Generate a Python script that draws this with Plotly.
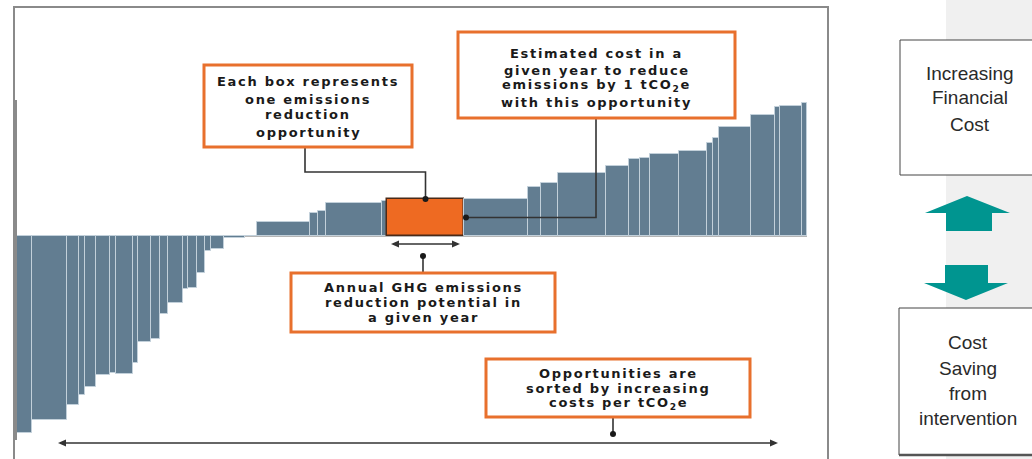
import plotly.graph_objects as go

W, H = 1032, 459

# Abatement opportunities, sorted by cost (schematic units)
potential = [15, 35, 12, 6, 11, 14, 6, 17, 5, 13, 9, 8, 15, 5, 9, 8, 6, 13, 21, 12,
             53, 8, 8, 56, 5, 77, 64, 13, 17, 48, 23, 11, 10, 29, 28, 6, 6, 32, 24, 5, 22, 5]
cost = [-197, -184, -169, -159, -151, -139, -137, -138, -127, -106, -103, -78, -67, -53,
        -52, -37, -15, -13, -1.5, 0,
        14, 23, 25, 33, 35, 37, 37, 49, 53, 63, 70, 77, 78, 82, 85, 93, 98, 109, 121, 129, 130, 133]
highlight = 25  # the example opportunity

box_notes = {
    "each": ["Each box represents", "one emissions", "reduction", "opportunity"],
    "cost": ["Estimated cost in a", "given year to reduce", "emissions by 1 tCO<sub>2</sub>e",
             "with this opportunity"],
    "annual": ["Annual GHG emissions", "reduction potential in", "a given year"],
    "sorted": ["Opportunities are", "sorted by increasing", "costs per tCO<sub>2</sub>e"],
}
side_up = ["Increasing", "Financial", "Cost"]
side_down = ["Cost", "Saving", "from", "intervention"]

# Axis placement (pixels)
X_L, X_R = 17, 807
Y_T, Y_B = 100, 440
Y_MAX, Y_MIN = 136, -204

left_edges = []
acc = 0
for w in potential:
    left_edges.append(acc)
    acc += w
total = acc
centers = [l + w / 2 for l, w in zip(left_edges, potential)]


def px(x):
    return x / W


def py(y):
    return 1 - y / H


def dx(v):
    return X_L + v * (X_R - X_L) / total


def dy(v):
    return Y_T + (Y_MAX - v) * (Y_B - Y_T) / (Y_MAX - Y_MIN)


BAR = "#627d91"
ORANGE = "#ee6a22"
colors = [ORANGE if i == highlight else BAR for i in range(len(cost))]
line_colors = ["#4a2a18" if i == highlight else "#c2d0da" for i in range(len(cost))]
line_widths = [1.5 if i == highlight else 1 for i in range(len(cost))]

fig = go.Figure(go.Bar(
    x=centers, y=cost, width=potential,
    marker=dict(color=colors, line=dict(color=line_colors, width=line_widths)),
    hoverinfo="skip",
))

shapes = []
annotations = []

# outer frame of the curve panel
shapes.append(dict(type="rect", xref="paper", yref="paper", x0=px(14), x1=px(828),
                   y0=py(470), y1=py(7), line=dict(color="#8a8a8a", width=2), layer="below"))
# grey strip on the right
shapes.append(dict(type="rect", xref="paper", yref="paper", x0=px(946), x1=px(1040),
                   y0=py(465), y1=py(-5), fillcolor="#f0f0f0", line=dict(width=0), layer="below"))


def path(points, close=False):
    s = "M " + " L ".join(f"{px(x):.5f},{py(y):.5f}" for x, y in points)
    return s + (" Z" if close else "")


INK = "#333333"


def connector(points):
    shapes.append(dict(type="path", xref="paper", yref="paper", path=path(points),
                       line=dict(color=INK, width=1.6)))


def dot(x, y, r=3):
    shapes.append(dict(type="circle", xref="paper", yref="paper",
                       x0=px(x - r), x1=px(x + r), y0=py(y + r), y1=py(y - r),
                       fillcolor="#1a1a1a", line=dict(width=0)))


def double_arrow(x0, x1, y, head=8, half=3.5):
    connector([(x0 + 2, y), (x1 - 2, y)])
    for tip, back in ((x0, x0 + head), (x1, x1 - head)):
        shapes.append(dict(type="path", xref="paper", yref="paper", fillcolor=INK,
                           line=dict(width=0),
                           path=path([(tip, y), (back, y - half), (back, y + half)], close=True)))


def note_box(x0, y0, x1, y1, lines, ys, size=13, spacing=1.7):
    shapes.append(dict(type="rect", xref="paper", yref="paper", x0=px(x0), x1=px(x1),
                       y0=py(y1), y1=py(y0), fillcolor="white",
                       line=dict(color="#e8702d", width=3)))
    cx = (x0 + x1) / 2
    for t, yy in zip(lines, ys):
        annotations.append(dict(xref="paper", yref="paper", x=px(cx), y=py(yy),
                                text=f'<span style="letter-spacing:{spacing}px"><b>{t}</b></span>',
                                showarrow=False, xanchor="center", yanchor="middle",
                                font=dict(family="DejaVu Sans", size=size, color="#1a1a1a")))


hl_left = dx(left_edges[highlight])
hl_right = dx(left_edges[highlight] + potential[highlight])
hl_mid = (hl_left + hl_right) / 2
hl_top = dy(cost[highlight])
hl_half = dy(cost[highlight] / 2)

# connectors
connector([(305, 147), (305, 172), (hl_mid, 172), (hl_mid, hl_top)])
dot(hl_mid, hl_top)
connector([(596, 118), (596, hl_half), (hl_right + 2, hl_half)])
dot(hl_right + 2, hl_half)
connector([(423, 273), (423, 256)])
dot(423, 256)
connector([(613, 417), (613, 434)])
dot(613, 434)

note_box(204, 65, 412, 147, box_notes["each"], [82, 99, 115, 132])
note_box(458, 32, 735, 118, box_notes["cost"], [53, 70, 86, 102])
note_box(291, 273, 555, 332, box_notes["annual"], [287, 302, 317])
note_box(486, 359, 750, 417, box_notes["sorted"], [373, 388, 403])

# width arrow under the highlighted box, and the long sorting arrow
double_arrow(hl_left + 4, hl_right - 4, 244)
double_arrow(58, 778, 443)

# side legend boxes
shapes.append(dict(type="rect", xref="paper", yref="paper", x0=px(900), x1=px(1040),
                   y0=py(175), y1=py(40), fillcolor="white", line=dict(color="#444444", width=1)))
shapes.append(dict(type="rect", xref="paper", yref="paper", x0=px(899), x1=px(1040),
                   y0=py(455), y1=py(308), fillcolor="white", line=dict(color="#444444", width=1)))
shapes.append(dict(type="line", xref="paper", yref="paper", x0=px(899), x1=px(1040),
                   y0=py(455), y1=py(455), line=dict(color="#555555", width=2.5)))

TEAL = "#009590"
shapes.append(dict(type="path", xref="paper", yref="paper", fillcolor=TEAL, line=dict(width=0),
                   path=path([(925, 213), (967, 196), (1010, 213), (992, 213), (992, 231),
                              (946, 231), (946, 213)], close=True)))
shapes.append(dict(type="path", xref="paper", yref="paper", fillcolor=TEAL, line=dict(width=0),
                   path=path([(945, 265), (988, 265), (988, 283), (1008, 283), (966, 300),
                              (924, 283), (945, 283)], close=True)))

for t, yy in zip(side_up, [73, 98, 124]):
    annotations.append(dict(xref="paper", yref="paper", x=px(970), y=py(yy), text=t,
                            showarrow=False, xanchor="center", yanchor="middle",
                            font=dict(family="Liberation Sans", size=19, color="#2a2a2a")))
for t, yy in zip(side_down, [342, 368, 393, 418]):
    annotations.append(dict(xref="paper", yref="paper", x=px(968), y=py(yy), text=t,
                            showarrow=False, xanchor="center", yanchor="middle",
                            font=dict(family="Liberation Sans", size=19, color="#2a2a2a")))

fig.update_layout(
    width=W, height=H,
    margin=dict(l=0, r=0, t=0, b=0),
    paper_bgcolor="white", plot_bgcolor="rgba(0,0,0,0)",
    showlegend=False,
    bargap=0,
    xaxis=dict(domain=[px(X_L), px(X_R)], range=[0, total], showgrid=False,
               showticklabels=False, zeroline=False, showline=False, ticks=""),
    yaxis=dict(domain=[py(Y_B), py(Y_T)], range=[Y_MIN, Y_MAX], showgrid=False,
               showticklabels=False, ticks="", zeroline=True, zerolinecolor="#b5b5b5",
               zerolinewidth=1, showline=True, linecolor="#8a8a8a", linewidth=2),
    shapes=shapes,
    annotations=annotations,
)

fig.write_html("out.html")
